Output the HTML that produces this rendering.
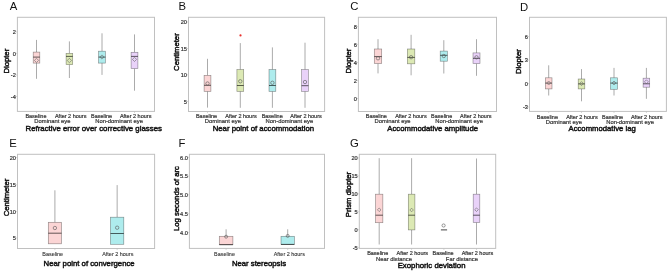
<!DOCTYPE html>
<html><head><meta charset="utf-8"><style>
html,body{margin:0;padding:0;background:#fff;}
body{width:669px;height:273px;overflow:hidden;}
svg{display:block;font-family:"Liberation Sans", sans-serif;will-change:transform;}
</style></head><body>
<svg width="669" height="273" viewBox="0 0 669 273">
<rect width="669" height="273" fill="#fff"/>
<text x="9.80" y="10.10" font-size="11.3" fill="#111">A</text>
<rect x="17.40" y="17.30" width="137.10" height="94.10" fill="none" stroke="#c0c0c0" stroke-width="1"/>
<line x1="15.40" y1="31.90" x2="17.40" y2="31.90" stroke="#c0c0c0" stroke-width="0.6"/>
<text x="15.80" y="34.10" font-size="5.6" text-anchor="end" fill="#333333" font-weight="normal" stroke="#333333" stroke-width="0.2" >2</text>
<line x1="15.40" y1="53.40" x2="17.40" y2="53.40" stroke="#c0c0c0" stroke-width="0.6"/>
<text x="15.80" y="55.60" font-size="5.6" text-anchor="end" fill="#333333" font-weight="normal" stroke="#333333" stroke-width="0.2" >0</text>
<line x1="15.40" y1="75.00" x2="17.40" y2="75.00" stroke="#c0c0c0" stroke-width="0.6"/>
<text x="15.80" y="77.20" font-size="5.6" text-anchor="end" fill="#333333" font-weight="normal" stroke="#333333" stroke-width="0.2" >-2</text>
<line x1="15.40" y1="96.50" x2="17.40" y2="96.50" stroke="#c0c0c0" stroke-width="0.6"/>
<text x="15.80" y="98.70" font-size="5.6" text-anchor="end" fill="#333333" font-weight="normal" stroke="#333333" stroke-width="0.2" >-4</text>
<line x1="36.50" y1="111.40" x2="36.50" y2="113.00" stroke="#c0c0c0" stroke-width="0.6"/>
<line x1="69.40" y1="111.40" x2="69.40" y2="113.00" stroke="#c0c0c0" stroke-width="0.6"/>
<line x1="102.00" y1="111.40" x2="102.00" y2="113.00" stroke="#c0c0c0" stroke-width="0.6"/>
<line x1="134.50" y1="111.40" x2="134.50" y2="113.00" stroke="#c0c0c0" stroke-width="0.6"/>
<line x1="36.50" y1="39.90" x2="36.50" y2="52.10" stroke="#969696" stroke-width="0.8"/>
<line x1="36.50" y1="63.10" x2="36.50" y2="78.80" stroke="#969696" stroke-width="0.8"/>
<rect x="33.20" y="52.10" width="6.60" height="11.00" fill="#fbd5d5" stroke="#000" stroke-opacity="0.42" stroke-width="0.65"/>
<line x1="33.20" y1="57.10" x2="39.80" y2="57.10" stroke="#000" stroke-opacity="0.68" stroke-width="0.9"/>
<path d="M36.50 58.30 L38.60 60.40 L36.50 62.50 L34.40 60.40 Z" fill="none" stroke="#666" stroke-width="0.6"/>
<line x1="69.40" y1="41.40" x2="69.40" y2="53.40" stroke="#969696" stroke-width="0.8"/>
<line x1="69.40" y1="64.60" x2="69.40" y2="78.00" stroke="#969696" stroke-width="0.8"/>
<rect x="66.10" y="53.40" width="6.60" height="11.20" fill="#dce9b4" stroke="#000" stroke-opacity="0.42" stroke-width="0.65"/>
<line x1="66.10" y1="56.40" x2="72.70" y2="56.40" stroke="#000" stroke-opacity="0.68" stroke-width="0.9"/>
<path d="M69.40 58.30 L71.60 60.50 L69.40 62.70 L67.20 60.50 Z" fill="none" stroke="#666" stroke-width="0.6"/>
<line x1="102.00" y1="33.30" x2="102.00" y2="51.20" stroke="#969696" stroke-width="0.8"/>
<line x1="102.00" y1="63.10" x2="102.00" y2="74.90" stroke="#969696" stroke-width="0.8"/>
<rect x="98.60" y="51.20" width="6.80" height="11.90" fill="#aeeced" stroke="#000" stroke-opacity="0.42" stroke-width="0.65"/>
<line x1="98.60" y1="57.10" x2="105.40" y2="57.10" stroke="#000" stroke-opacity="0.68" stroke-width="0.9"/>
<path d="M102.00 54.90 L104.10 57.00 L102.00 59.10 L99.90 57.00 Z" fill="none" stroke="#666" stroke-width="0.6"/>
<line x1="134.50" y1="34.40" x2="134.50" y2="52.30" stroke="#969696" stroke-width="0.8"/>
<line x1="134.50" y1="68.60" x2="134.50" y2="90.70" stroke="#969696" stroke-width="0.8"/>
<rect x="131.10" y="52.30" width="6.80" height="16.30" fill="#e9d2f9" stroke="#000" stroke-opacity="0.42" stroke-width="0.65"/>
<line x1="131.10" y1="56.40" x2="137.90" y2="56.40" stroke="#000" stroke-opacity="0.68" stroke-width="0.9"/>
<path d="M134.50 57.30 L136.60 59.40 L134.50 61.50 L132.40 59.40 Z" fill="none" stroke="#666" stroke-width="0.6"/>
<text x="0" y="0" font-size="7.7" text-anchor="middle" fill="#111111" stroke="#111111" stroke-width="0.45" transform="translate(9.40,61.20) rotate(-90)">Diopter</text>
<text x="35.95" y="117.90" font-size="5.5" text-anchor="middle" fill="#333333" font-weight="normal" stroke="#333333" stroke-width="0.2" >Baseline</text>
<text x="70.70" y="117.90" font-size="5.5" text-anchor="middle" fill="#333333" font-weight="normal" stroke="#333333" stroke-width="0.2" >After 2 hours</text>
<text x="101.60" y="117.90" font-size="5.5" text-anchor="middle" fill="#333333" font-weight="normal" stroke="#333333" stroke-width="0.2" >Baseline</text>
<text x="135.65" y="117.90" font-size="5.5" text-anchor="middle" fill="#333333" font-weight="normal" stroke="#333333" stroke-width="0.2" >After 2 hours</text>
<text x="52.40" y="123.10" font-size="5.85" text-anchor="middle" fill="#333333" font-weight="normal" stroke="#333333" stroke-width="0.2" >Dominant eye</text>
<text x="119.10" y="123.10" font-size="5.85" text-anchor="middle" fill="#333333" font-weight="normal" stroke="#333333" stroke-width="0.2" >Non-dominant eye</text>
<text x="25.50" y="131.30" font-size="7.85" text-anchor="start" fill="#111111" font-weight="normal" stroke="#111111" stroke-width="0.45" >Refractive error over corrective glasses</text>
<text x="178.60" y="10.10" font-size="11.3" fill="#111">B</text>
<rect x="188.50" y="17.30" width="136.10" height="94.20" fill="none" stroke="#c0c0c0" stroke-width="1"/>
<line x1="186.50" y1="22.00" x2="188.50" y2="22.00" stroke="#c0c0c0" stroke-width="0.6"/>
<text x="186.90" y="24.20" font-size="5.6" text-anchor="end" fill="#333333" font-weight="normal" stroke="#333333" stroke-width="0.2" >20</text>
<line x1="186.50" y1="48.50" x2="188.50" y2="48.50" stroke="#c0c0c0" stroke-width="0.6"/>
<text x="186.90" y="50.70" font-size="5.6" text-anchor="end" fill="#333333" font-weight="normal" stroke="#333333" stroke-width="0.2" >15</text>
<line x1="186.50" y1="74.80" x2="188.50" y2="74.80" stroke="#c0c0c0" stroke-width="0.6"/>
<text x="186.90" y="77.00" font-size="5.6" text-anchor="end" fill="#333333" font-weight="normal" stroke="#333333" stroke-width="0.2" >10</text>
<line x1="186.50" y1="101.50" x2="188.50" y2="101.50" stroke="#c0c0c0" stroke-width="0.6"/>
<text x="186.90" y="103.70" font-size="5.6" text-anchor="end" fill="#333333" font-weight="normal" stroke="#333333" stroke-width="0.2" >5</text>
<line x1="207.50" y1="111.50" x2="207.50" y2="113.10" stroke="#c0c0c0" stroke-width="0.6"/>
<line x1="240.30" y1="111.50" x2="240.30" y2="113.10" stroke="#c0c0c0" stroke-width="0.6"/>
<line x1="272.40" y1="111.50" x2="272.40" y2="113.10" stroke="#c0c0c0" stroke-width="0.6"/>
<line x1="305.00" y1="111.50" x2="305.00" y2="113.10" stroke="#c0c0c0" stroke-width="0.6"/>
<line x1="207.50" y1="58.80" x2="207.50" y2="75.40" stroke="#969696" stroke-width="0.8"/>
<line x1="207.50" y1="91.40" x2="207.50" y2="107.60" stroke="#969696" stroke-width="0.8"/>
<rect x="204.10" y="75.40" width="6.80" height="16.00" fill="#fbd5d5" stroke="#000" stroke-opacity="0.42" stroke-width="0.65"/>
<line x1="204.10" y1="85.30" x2="210.90" y2="85.30" stroke="#000" stroke-opacity="0.68" stroke-width="0.9"/>
<circle cx="207.50" cy="83.50" r="1.70" fill="none" stroke="#555" stroke-width="0.6"/>
<line x1="240.30" y1="43.10" x2="240.30" y2="69.60" stroke="#969696" stroke-width="0.8"/>
<line x1="240.30" y1="91.40" x2="240.30" y2="107.80" stroke="#969696" stroke-width="0.8"/>
<rect x="236.90" y="69.60" width="6.80" height="21.80" fill="#dce9b4" stroke="#000" stroke-opacity="0.42" stroke-width="0.65"/>
<line x1="236.90" y1="85.50" x2="243.70" y2="85.50" stroke="#000" stroke-opacity="0.68" stroke-width="0.9"/>
<circle cx="240.30" cy="81.30" r="1.70" fill="none" stroke="#555" stroke-width="0.6"/>
<line x1="272.40" y1="47.40" x2="272.40" y2="69.60" stroke="#969696" stroke-width="0.8"/>
<line x1="272.40" y1="91.40" x2="272.40" y2="107.80" stroke="#969696" stroke-width="0.8"/>
<rect x="269.00" y="69.60" width="6.80" height="21.80" fill="#aeeced" stroke="#000" stroke-opacity="0.42" stroke-width="0.65"/>
<line x1="269.00" y1="85.50" x2="275.80" y2="85.50" stroke="#000" stroke-opacity="0.68" stroke-width="0.9"/>
<circle cx="272.40" cy="82.80" r="1.70" fill="none" stroke="#555" stroke-width="0.6"/>
<line x1="305.00" y1="42.70" x2="305.00" y2="69.60" stroke="#969696" stroke-width="0.8"/>
<line x1="305.00" y1="91.40" x2="305.00" y2="107.80" stroke="#969696" stroke-width="0.8"/>
<rect x="301.60" y="69.60" width="6.80" height="21.80" fill="#e9d2f9" stroke="#000" stroke-opacity="0.42" stroke-width="0.65"/>
<line x1="301.60" y1="85.70" x2="308.40" y2="85.70" stroke="#000" stroke-opacity="0.68" stroke-width="0.9"/>
<circle cx="305.00" cy="82.00" r="1.70" fill="none" stroke="#555" stroke-width="0.6"/>
<circle cx="240.5" cy="35.4" r="1.1" fill="#e8302c"/>
<text x="0" y="0" font-size="7.7" text-anchor="middle" fill="#111111" stroke="#111111" stroke-width="0.45" transform="translate(179.20,52.10) rotate(-90)">Centimeter</text>
<text x="206.50" y="118.20" font-size="5.5" text-anchor="middle" fill="#333333" font-weight="normal" stroke="#333333" stroke-width="0.2" >Baseline</text>
<text x="241.00" y="118.20" font-size="5.5" text-anchor="middle" fill="#333333" font-weight="normal" stroke="#333333" stroke-width="0.2" >After 2 hours</text>
<text x="272.20" y="118.20" font-size="5.5" text-anchor="middle" fill="#333333" font-weight="normal" stroke="#333333" stroke-width="0.2" >Baseline</text>
<text x="306.00" y="118.20" font-size="5.5" text-anchor="middle" fill="#333333" font-weight="normal" stroke="#333333" stroke-width="0.2" >After 2 hours</text>
<text x="222.90" y="123.30" font-size="5.85" text-anchor="middle" fill="#333333" font-weight="normal" stroke="#333333" stroke-width="0.2" >Dominant eye</text>
<text x="289.40" y="123.30" font-size="5.85" text-anchor="middle" fill="#333333" font-weight="normal" stroke="#333333" stroke-width="0.2" >Non-dominant eye</text>
<text x="212.70" y="131.10" font-size="7.77" text-anchor="start" fill="#111111" font-weight="normal" stroke="#111111" stroke-width="0.45" >Near point of accommodation</text>
<text x="350.20" y="10.10" font-size="11.3" fill="#111">C</text>
<rect x="358.40" y="17.30" width="138.10" height="94.20" fill="none" stroke="#c0c0c0" stroke-width="1"/>
<line x1="356.40" y1="26.60" x2="358.40" y2="26.60" stroke="#c0c0c0" stroke-width="0.6"/>
<text x="356.80" y="28.80" font-size="5.6" text-anchor="end" fill="#333333" font-weight="normal" stroke="#333333" stroke-width="0.2" >8</text>
<line x1="356.40" y1="44.40" x2="358.40" y2="44.40" stroke="#c0c0c0" stroke-width="0.6"/>
<text x="356.80" y="46.60" font-size="5.6" text-anchor="end" fill="#333333" font-weight="normal" stroke="#333333" stroke-width="0.2" >6</text>
<line x1="356.40" y1="62.50" x2="358.40" y2="62.50" stroke="#c0c0c0" stroke-width="0.6"/>
<text x="356.80" y="64.70" font-size="5.6" text-anchor="end" fill="#333333" font-weight="normal" stroke="#333333" stroke-width="0.2" >4</text>
<line x1="356.40" y1="80.60" x2="358.40" y2="80.60" stroke="#c0c0c0" stroke-width="0.6"/>
<text x="356.80" y="82.80" font-size="5.6" text-anchor="end" fill="#333333" font-weight="normal" stroke="#333333" stroke-width="0.2" >2</text>
<line x1="356.40" y1="98.50" x2="358.40" y2="98.50" stroke="#c0c0c0" stroke-width="0.6"/>
<text x="356.80" y="100.70" font-size="5.6" text-anchor="end" fill="#333333" font-weight="normal" stroke="#333333" stroke-width="0.2" >0</text>
<line x1="378.00" y1="111.50" x2="378.00" y2="113.10" stroke="#c0c0c0" stroke-width="0.6"/>
<line x1="411.10" y1="111.50" x2="411.10" y2="113.10" stroke="#c0c0c0" stroke-width="0.6"/>
<line x1="443.80" y1="111.50" x2="443.80" y2="113.10" stroke="#c0c0c0" stroke-width="0.6"/>
<line x1="476.50" y1="111.50" x2="476.50" y2="113.10" stroke="#c0c0c0" stroke-width="0.6"/>
<line x1="378.00" y1="39.20" x2="378.00" y2="49.00" stroke="#969696" stroke-width="0.8"/>
<line x1="378.00" y1="63.50" x2="378.00" y2="73.40" stroke="#969696" stroke-width="0.8"/>
<rect x="374.30" y="49.00" width="7.40" height="14.50" fill="#fbd5d5" stroke="#000" stroke-opacity="0.42" stroke-width="0.65"/>
<line x1="374.30" y1="56.60" x2="381.70" y2="56.60" stroke="#000" stroke-opacity="0.68" stroke-width="0.9"/>
<circle cx="378.00" cy="58.30" r="1.70" fill="none" stroke="#555" stroke-width="0.6"/>
<line x1="411.10" y1="34.80" x2="411.10" y2="49.00" stroke="#969696" stroke-width="0.8"/>
<line x1="411.10" y1="63.80" x2="411.10" y2="75.30" stroke="#969696" stroke-width="0.8"/>
<rect x="407.40" y="49.00" width="7.40" height="14.80" fill="#dce9b4" stroke="#000" stroke-opacity="0.42" stroke-width="0.65"/>
<line x1="407.40" y1="57.40" x2="414.80" y2="57.40" stroke="#000" stroke-opacity="0.68" stroke-width="0.9"/>
<circle cx="411.10" cy="57.20" r="1.70" fill="none" stroke="#555" stroke-width="0.6"/>
<line x1="443.80" y1="40.20" x2="443.80" y2="51.10" stroke="#969696" stroke-width="0.8"/>
<line x1="443.80" y1="61.20" x2="443.80" y2="73.50" stroke="#969696" stroke-width="0.8"/>
<rect x="440.20" y="51.10" width="7.20" height="10.10" fill="#aeeced" stroke="#000" stroke-opacity="0.42" stroke-width="0.65"/>
<line x1="440.20" y1="55.30" x2="447.40" y2="55.30" stroke="#000" stroke-opacity="0.68" stroke-width="0.9"/>
<circle cx="443.80" cy="56.00" r="1.70" fill="none" stroke="#555" stroke-width="0.6"/>
<line x1="476.50" y1="39.20" x2="476.50" y2="52.90" stroke="#969696" stroke-width="0.8"/>
<line x1="476.50" y1="63.60" x2="476.50" y2="75.80" stroke="#969696" stroke-width="0.8"/>
<rect x="473.00" y="52.90" width="7.00" height="10.70" fill="#e9d2f9" stroke="#000" stroke-opacity="0.42" stroke-width="0.65"/>
<line x1="473.00" y1="58.30" x2="480.00" y2="58.30" stroke="#000" stroke-opacity="0.68" stroke-width="0.9"/>
<circle cx="476.50" cy="57.30" r="1.70" fill="none" stroke="#555" stroke-width="0.6"/>
<text x="0" y="0" font-size="7.7" text-anchor="middle" fill="#111111" stroke="#111111" stroke-width="0.45" transform="translate(351.00,61.00) rotate(-90)">Diopter</text>
<text x="376.30" y="118.20" font-size="5.5" text-anchor="middle" fill="#333333" font-weight="normal" stroke="#333333" stroke-width="0.2" >Baseline</text>
<text x="410.90" y="118.20" font-size="5.5" text-anchor="middle" fill="#333333" font-weight="normal" stroke="#333333" stroke-width="0.2" >After 2 hours</text>
<text x="441.65" y="118.20" font-size="5.5" text-anchor="middle" fill="#333333" font-weight="normal" stroke="#333333" stroke-width="0.2" >Baseline</text>
<text x="475.75" y="118.20" font-size="5.5" text-anchor="middle" fill="#333333" font-weight="normal" stroke="#333333" stroke-width="0.2" >After 2 hours</text>
<text x="392.60" y="123.30" font-size="5.85" text-anchor="middle" fill="#333333" font-weight="normal" stroke="#333333" stroke-width="0.2" >Dominant eye</text>
<text x="459.10" y="123.30" font-size="5.85" text-anchor="middle" fill="#333333" font-weight="normal" stroke="#333333" stroke-width="0.2" >Non-dominant eye</text>
<text x="387.30" y="131.00" font-size="7.74" text-anchor="start" fill="#111111" font-weight="normal" stroke="#111111" stroke-width="0.45" >Accommodative amplitude</text>
<text x="520.00" y="11.10" font-size="11.3" fill="#111">D</text>
<rect x="529.50" y="17.30" width="136.90" height="94.10" fill="none" stroke="#c0c0c0" stroke-width="1"/>
<line x1="527.50" y1="36.50" x2="529.50" y2="36.50" stroke="#c0c0c0" stroke-width="0.6"/>
<text x="527.90" y="38.70" font-size="5.6" text-anchor="end" fill="#333333" font-weight="normal" stroke="#333333" stroke-width="0.2" >6</text>
<line x1="527.50" y1="60.10" x2="529.50" y2="60.10" stroke="#c0c0c0" stroke-width="0.6"/>
<text x="527.90" y="62.30" font-size="5.6" text-anchor="end" fill="#333333" font-weight="normal" stroke="#333333" stroke-width="0.2" >3</text>
<line x1="527.50" y1="83.60" x2="529.50" y2="83.60" stroke="#c0c0c0" stroke-width="0.6"/>
<text x="527.90" y="85.80" font-size="5.6" text-anchor="end" fill="#333333" font-weight="normal" stroke="#333333" stroke-width="0.2" >0</text>
<line x1="527.50" y1="107.00" x2="529.50" y2="107.00" stroke="#c0c0c0" stroke-width="0.6"/>
<text x="527.90" y="109.20" font-size="5.6" text-anchor="end" fill="#333333" font-weight="normal" stroke="#333333" stroke-width="0.2" >-3</text>
<line x1="548.70" y1="111.40" x2="548.70" y2="113.00" stroke="#c0c0c0" stroke-width="0.6"/>
<line x1="581.50" y1="111.40" x2="581.50" y2="113.00" stroke="#c0c0c0" stroke-width="0.6"/>
<line x1="614.00" y1="111.40" x2="614.00" y2="113.00" stroke="#c0c0c0" stroke-width="0.6"/>
<line x1="646.40" y1="111.40" x2="646.40" y2="113.00" stroke="#c0c0c0" stroke-width="0.6"/>
<line x1="548.70" y1="65.30" x2="548.70" y2="77.80" stroke="#969696" stroke-width="0.8"/>
<line x1="548.70" y1="88.90" x2="548.70" y2="95.50" stroke="#969696" stroke-width="0.8"/>
<rect x="545.40" y="77.80" width="6.60" height="11.10" fill="#fbd5d5" stroke="#000" stroke-opacity="0.42" stroke-width="0.65"/>
<line x1="545.40" y1="83.10" x2="552.00" y2="83.10" stroke="#000" stroke-opacity="0.68" stroke-width="0.9"/>
<path d="M548.70 81.00 L550.70 83.00 L548.70 85.00 L546.70 83.00 Z" fill="none" stroke="#666" stroke-width="0.6"/>
<line x1="581.50" y1="69.10" x2="581.50" y2="79.00" stroke="#969696" stroke-width="0.8"/>
<line x1="581.50" y1="88.90" x2="581.50" y2="101.30" stroke="#969696" stroke-width="0.8"/>
<rect x="578.20" y="79.00" width="6.60" height="9.90" fill="#dce9b4" stroke="#000" stroke-opacity="0.42" stroke-width="0.65"/>
<line x1="578.20" y1="83.90" x2="584.80" y2="83.90" stroke="#000" stroke-opacity="0.68" stroke-width="0.9"/>
<path d="M581.50 81.60 L583.50 83.60 L581.50 85.60 L579.50 83.60 Z" fill="none" stroke="#666" stroke-width="0.6"/>
<line x1="614.00" y1="67.90" x2="614.00" y2="77.80" stroke="#969696" stroke-width="0.8"/>
<line x1="614.00" y1="89.30" x2="614.00" y2="95.50" stroke="#969696" stroke-width="0.8"/>
<rect x="610.50" y="77.80" width="7.00" height="11.50" fill="#aeeced" stroke="#000" stroke-opacity="0.42" stroke-width="0.65"/>
<line x1="610.50" y1="83.10" x2="617.50" y2="83.10" stroke="#000" stroke-opacity="0.68" stroke-width="0.9"/>
<path d="M614.00 81.00 L616.00 83.00 L614.00 85.00 L612.00 83.00 Z" fill="none" stroke="#666" stroke-width="0.6"/>
<line x1="646.40" y1="67.90" x2="646.40" y2="78.20" stroke="#969696" stroke-width="0.8"/>
<line x1="646.40" y1="87.20" x2="646.40" y2="98.80" stroke="#969696" stroke-width="0.8"/>
<rect x="643.10" y="78.20" width="6.60" height="9.00" fill="#e9d2f9" stroke="#000" stroke-opacity="0.42" stroke-width="0.65"/>
<line x1="643.10" y1="83.80" x2="649.70" y2="83.80" stroke="#000" stroke-opacity="0.68" stroke-width="0.9"/>
<path d="M646.40 79.80 L648.40 81.80 L646.40 83.80 L644.40 81.80 Z" fill="none" stroke="#666" stroke-width="0.6"/>
<text x="0" y="0" font-size="7.7" text-anchor="middle" fill="#111111" stroke="#111111" stroke-width="0.45" transform="translate(521.10,61.60) rotate(-90)">Diopter</text>
<text x="547.40" y="118.90" font-size="5.5" text-anchor="middle" fill="#333333" font-weight="normal" stroke="#333333" stroke-width="0.2" >Baseline</text>
<text x="581.90" y="118.90" font-size="5.5" text-anchor="middle" fill="#333333" font-weight="normal" stroke="#333333" stroke-width="0.2" >After 2 hours</text>
<text x="612.60" y="118.90" font-size="5.5" text-anchor="middle" fill="#333333" font-weight="normal" stroke="#333333" stroke-width="0.2" >Baseline</text>
<text x="646.70" y="118.90" font-size="5.5" text-anchor="middle" fill="#333333" font-weight="normal" stroke="#333333" stroke-width="0.2" >After 2 hours</text>
<text x="563.90" y="123.90" font-size="5.85" text-anchor="middle" fill="#333333" font-weight="normal" stroke="#333333" stroke-width="0.2" >Dominant eye</text>
<text x="630.10" y="123.90" font-size="5.85" text-anchor="middle" fill="#333333" font-weight="normal" stroke="#333333" stroke-width="0.2" >Non-dominant eye</text>
<text x="568.50" y="131.30" font-size="7.71" text-anchor="start" fill="#111111" font-weight="normal" stroke="#111111" stroke-width="0.45" >Accommodative lag</text>
<text x="9.20" y="147.10" font-size="11.3" fill="#111">E</text>
<rect x="17.50" y="154.30" width="137.10" height="94.20" fill="none" stroke="#c0c0c0" stroke-width="1"/>
<line x1="15.50" y1="157.50" x2="17.50" y2="157.50" stroke="#c0c0c0" stroke-width="0.6"/>
<text x="15.90" y="159.70" font-size="5.6" text-anchor="end" fill="#333333" font-weight="normal" stroke="#333333" stroke-width="0.2" >20</text>
<line x1="15.50" y1="184.80" x2="17.50" y2="184.80" stroke="#c0c0c0" stroke-width="0.6"/>
<text x="15.90" y="187.00" font-size="5.6" text-anchor="end" fill="#333333" font-weight="normal" stroke="#333333" stroke-width="0.2" >15</text>
<line x1="15.50" y1="211.60" x2="17.50" y2="211.60" stroke="#c0c0c0" stroke-width="0.6"/>
<text x="15.90" y="213.80" font-size="5.6" text-anchor="end" fill="#333333" font-weight="normal" stroke="#333333" stroke-width="0.2" >10</text>
<line x1="15.50" y1="238.00" x2="17.50" y2="238.00" stroke="#c0c0c0" stroke-width="0.6"/>
<text x="15.90" y="240.20" font-size="5.6" text-anchor="end" fill="#333333" font-weight="normal" stroke="#333333" stroke-width="0.2" >5</text>
<line x1="54.90" y1="248.50" x2="54.90" y2="250.10" stroke="#c0c0c0" stroke-width="0.6"/>
<line x1="117.15" y1="248.50" x2="117.15" y2="250.10" stroke="#c0c0c0" stroke-width="0.6"/>
<line x1="54.90" y1="190.30" x2="54.90" y2="222.30" stroke="#969696" stroke-width="0.8"/>
<rect x="48.30" y="222.30" width="13.20" height="21.50" fill="#fbd5d5" stroke="#000" stroke-opacity="0.42" stroke-width="0.65"/>
<line x1="48.30" y1="233.20" x2="61.50" y2="233.20" stroke="#000" stroke-opacity="0.68" stroke-width="0.9"/>
<circle cx="54.90" cy="228.00" r="1.70" fill="none" stroke="#555" stroke-width="0.6"/>
<line x1="117.15" y1="185.10" x2="117.15" y2="217.20" stroke="#969696" stroke-width="0.8"/>
<rect x="110.50" y="217.20" width="13.30" height="27.10" fill="#aeeced" stroke="#000" stroke-opacity="0.42" stroke-width="0.65"/>
<line x1="110.50" y1="233.50" x2="123.80" y2="233.50" stroke="#000" stroke-opacity="0.68" stroke-width="0.9"/>
<circle cx="117.15" cy="227.70" r="1.70" fill="none" stroke="#555" stroke-width="0.6"/>
<text x="0" y="0" font-size="7.7" text-anchor="middle" fill="#111111" stroke="#111111" stroke-width="0.45" transform="translate(9.40,197.50) rotate(-90)">Centimeter</text>
<text x="52.70" y="256.10" font-size="5.45" text-anchor="middle" fill="#333333" font-weight="normal" stroke="#333333" stroke-width="0.1" >Baseline</text>
<text x="117.80" y="256.10" font-size="5.45" text-anchor="middle" fill="#333333" font-weight="normal" stroke="#333333" stroke-width="0.1" >After 2 hours</text>
<text x="43.60" y="266.40" font-size="7.77" text-anchor="start" fill="#111111" font-weight="normal" stroke="#111111" stroke-width="0.45" >Near point of convergence</text>
<text x="178.50" y="147.10" font-size="11.3" fill="#111">F</text>
<rect x="189.40" y="154.30" width="135.10" height="94.10" fill="none" stroke="#c0c0c0" stroke-width="1"/>
<line x1="187.40" y1="157.40" x2="189.40" y2="157.40" stroke="#c0c0c0" stroke-width="0.6"/>
<text x="187.80" y="159.60" font-size="5.6" text-anchor="end" fill="#333333" font-weight="normal" stroke="#333333" stroke-width="0.2" >6.0</text>
<line x1="187.40" y1="176.20" x2="189.40" y2="176.20" stroke="#c0c0c0" stroke-width="0.6"/>
<text x="187.80" y="178.40" font-size="5.6" text-anchor="end" fill="#333333" font-weight="normal" stroke="#333333" stroke-width="0.2" >5.5</text>
<line x1="187.40" y1="194.80" x2="189.40" y2="194.80" stroke="#c0c0c0" stroke-width="0.6"/>
<text x="187.80" y="197.00" font-size="5.6" text-anchor="end" fill="#333333" font-weight="normal" stroke="#333333" stroke-width="0.2" >5.0</text>
<line x1="187.40" y1="213.80" x2="189.40" y2="213.80" stroke="#c0c0c0" stroke-width="0.6"/>
<text x="187.80" y="216.00" font-size="5.6" text-anchor="end" fill="#333333" font-weight="normal" stroke="#333333" stroke-width="0.2" >4.5</text>
<line x1="187.40" y1="232.60" x2="189.40" y2="232.60" stroke="#c0c0c0" stroke-width="0.6"/>
<text x="187.80" y="234.80" font-size="5.6" text-anchor="end" fill="#333333" font-weight="normal" stroke="#333333" stroke-width="0.2" >4.0</text>
<line x1="226.10" y1="248.40" x2="226.10" y2="250.00" stroke="#c0c0c0" stroke-width="0.6"/>
<line x1="287.70" y1="248.40" x2="287.70" y2="250.00" stroke="#c0c0c0" stroke-width="0.6"/>
<line x1="226.10" y1="229.30" x2="226.10" y2="236.30" stroke="#969696" stroke-width="0.8"/>
<rect x="219.30" y="236.30" width="13.60" height="8.40" fill="#fbd5d5" stroke="#000" stroke-opacity="0.42" stroke-width="0.65"/>
<line x1="219.30" y1="244.70" x2="232.90" y2="244.70" stroke="#000" stroke-opacity="0.68" stroke-width="0.9"/>
<circle cx="226.10" cy="236.70" r="1.50" fill="none" stroke="#555" stroke-width="0.6"/>
<line x1="287.70" y1="229.30" x2="287.70" y2="236.30" stroke="#969696" stroke-width="0.8"/>
<rect x="281.00" y="236.30" width="13.40" height="8.10" fill="#aeeced" stroke="#000" stroke-opacity="0.42" stroke-width="0.65"/>
<line x1="281.00" y1="244.40" x2="294.40" y2="244.40" stroke="#000" stroke-opacity="0.68" stroke-width="0.9"/>
<circle cx="287.70" cy="235.90" r="1.50" fill="none" stroke="#555" stroke-width="0.6"/>
<text x="0" y="0" font-size="7.7" text-anchor="middle" fill="#111111" stroke="#111111" stroke-width="0.45" transform="translate(179.00,198.60) rotate(-90)">Log seconds of arc</text>
<text x="224.50" y="256.10" font-size="5.45" text-anchor="middle" fill="#333333" font-weight="normal" stroke="#333333" stroke-width="0.1" >Baseline</text>
<text x="289.30" y="256.10" font-size="5.45" text-anchor="middle" fill="#333333" font-weight="normal" stroke="#333333" stroke-width="0.1" >After 2 hours</text>
<text x="231.90" y="266.00" font-size="7.74" text-anchor="start" fill="#111111" font-weight="normal" stroke="#111111" stroke-width="0.45" >Near stereopsis</text>
<text x="350.10" y="147.10" font-size="11.3" fill="#111">G</text>
<rect x="359.30" y="154.30" width="136.40" height="94.10" fill="none" stroke="#c0c0c0" stroke-width="1"/>
<line x1="357.30" y1="157.90" x2="359.30" y2="157.90" stroke="#c0c0c0" stroke-width="0.6"/>
<text x="357.70" y="160.10" font-size="5.6" text-anchor="end" fill="#333333" font-weight="normal" stroke="#333333" stroke-width="0.2" >20</text>
<line x1="357.30" y1="175.90" x2="359.30" y2="175.90" stroke="#c0c0c0" stroke-width="0.6"/>
<text x="357.70" y="178.10" font-size="5.6" text-anchor="end" fill="#333333" font-weight="normal" stroke="#333333" stroke-width="0.2" >15</text>
<line x1="357.30" y1="193.80" x2="359.30" y2="193.80" stroke="#c0c0c0" stroke-width="0.6"/>
<text x="357.70" y="196.00" font-size="5.6" text-anchor="end" fill="#333333" font-weight="normal" stroke="#333333" stroke-width="0.2" >10</text>
<line x1="357.30" y1="211.80" x2="359.30" y2="211.80" stroke="#c0c0c0" stroke-width="0.6"/>
<text x="357.70" y="214.00" font-size="5.6" text-anchor="end" fill="#333333" font-weight="normal" stroke="#333333" stroke-width="0.2" >5</text>
<line x1="357.30" y1="229.70" x2="359.30" y2="229.70" stroke="#c0c0c0" stroke-width="0.6"/>
<text x="357.70" y="231.90" font-size="5.6" text-anchor="end" fill="#333333" font-weight="normal" stroke="#333333" stroke-width="0.2" >0</text>
<line x1="357.30" y1="247.70" x2="359.30" y2="247.70" stroke="#c0c0c0" stroke-width="0.6"/>
<text x="357.70" y="249.90" font-size="5.6" text-anchor="end" fill="#333333" font-weight="normal" stroke="#333333" stroke-width="0.2" >-5</text>
<line x1="379.20" y1="248.40" x2="379.20" y2="250.00" stroke="#c0c0c0" stroke-width="0.6"/>
<line x1="411.60" y1="248.40" x2="411.60" y2="250.00" stroke="#c0c0c0" stroke-width="0.6"/>
<line x1="443.90" y1="248.40" x2="443.90" y2="250.00" stroke="#c0c0c0" stroke-width="0.6"/>
<line x1="476.50" y1="248.40" x2="476.50" y2="250.00" stroke="#c0c0c0" stroke-width="0.6"/>
<line x1="379.20" y1="158.20" x2="379.20" y2="194.20" stroke="#969696" stroke-width="0.8"/>
<line x1="379.20" y1="222.70" x2="379.20" y2="244.50" stroke="#969696" stroke-width="0.8"/>
<rect x="375.55" y="194.20" width="7.30" height="28.50" fill="#fbd5d5" stroke="#000" stroke-opacity="0.42" stroke-width="0.65"/>
<line x1="375.55" y1="215.20" x2="382.85" y2="215.20" stroke="#000" stroke-opacity="0.68" stroke-width="0.9"/>
<path d="M379.20 208.00 L381.00 209.80 L379.20 211.60 L377.40 209.80 Z" fill="none" stroke="#666" stroke-width="0.6"/>
<line x1="411.60" y1="158.20" x2="411.60" y2="194.20" stroke="#969696" stroke-width="0.8"/>
<line x1="411.60" y1="229.90" x2="411.60" y2="244.50" stroke="#969696" stroke-width="0.8"/>
<rect x="408.30" y="194.20" width="6.60" height="35.70" fill="#dce9b4" stroke="#000" stroke-opacity="0.42" stroke-width="0.65"/>
<line x1="408.30" y1="215.20" x2="414.90" y2="215.20" stroke="#000" stroke-opacity="0.68" stroke-width="0.9"/>
<path d="M411.60 208.20 L413.40 210.00 L411.60 211.80 L409.80 210.00 Z" fill="none" stroke="#666" stroke-width="0.6"/>
<line x1="440.9" y1="229.9" x2="447.1" y2="229.9" stroke="#444" stroke-width="1"/>
<circle cx="443.6" cy="225.5" r="1.6" fill="none" stroke="#555" stroke-width="0.6"/>
<line x1="476.50" y1="158.50" x2="476.50" y2="194.20" stroke="#969696" stroke-width="0.8"/>
<line x1="476.50" y1="222.50" x2="476.50" y2="244.50" stroke="#969696" stroke-width="0.8"/>
<rect x="473.20" y="194.20" width="6.60" height="28.30" fill="#e9d2f9" stroke="#000" stroke-opacity="0.42" stroke-width="0.65"/>
<line x1="473.20" y1="215.20" x2="479.80" y2="215.20" stroke="#000" stroke-opacity="0.68" stroke-width="0.9"/>
<path d="M476.50 207.90 L478.30 209.70 L476.50 211.50 L474.70 209.70 Z" fill="none" stroke="#666" stroke-width="0.6"/>
<text x="0" y="0" font-size="7.7" text-anchor="middle" fill="#111111" stroke="#111111" stroke-width="0.45" transform="translate(351.00,194.50) rotate(-90)">Prism diopter</text>
<text x="377.70" y="255.30" font-size="5.5" text-anchor="middle" fill="#333333" font-weight="normal" stroke="#333333" stroke-width="0.2" >Baseline</text>
<text x="412.30" y="255.30" font-size="5.5" text-anchor="middle" fill="#333333" font-weight="normal" stroke="#333333" stroke-width="0.2" >After 2 hours</text>
<text x="443.10" y="255.30" font-size="5.5" text-anchor="middle" fill="#333333" font-weight="normal" stroke="#333333" stroke-width="0.2" >Baseline</text>
<text x="477.40" y="255.30" font-size="5.5" text-anchor="middle" fill="#333333" font-weight="normal" stroke="#333333" stroke-width="0.2" >After 2 hours</text>
<text x="394.00" y="260.50" font-size="5.85" text-anchor="middle" fill="#333333" font-weight="normal" stroke="#333333" stroke-width="0.2" >Near distance</text>
<text x="461.90" y="260.50" font-size="5.85" text-anchor="middle" fill="#333333" font-weight="normal" stroke="#333333" stroke-width="0.2" >Far distance</text>
<text x="397.70" y="267.90" font-size="7.78" text-anchor="start" fill="#111111" font-weight="normal" stroke="#111111" stroke-width="0.45" >Exophoric deviation</text>
</svg>
</body></html>
